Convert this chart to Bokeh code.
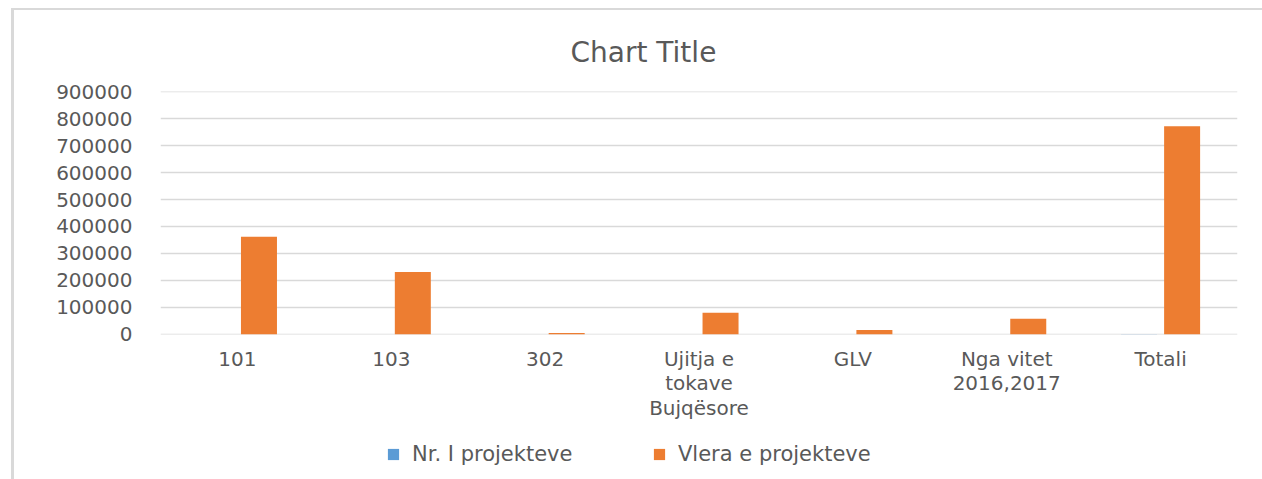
from bokeh.plotting import figure
from bokeh.layouts import column
from bokeh.models import (FactorRange, Range1d, FixedTicker, PrintfTickFormatter,
                          Legend, LegendItem, ColumnDataSource)
from bokeh.transform import dodge
from bokeh.embed import file_html
from bokeh.resources import INLINE

# ---- data ----
categories = ["101", "103", "302", "Ujitja e\ntokave\nBujqësore", "GLV",
              "Nga vitet\n2016,2017", "Totali"]
nr_projekteve = [40, 25, 2, 6, 3, 10, 86]
vlera_projekteve = [362000, 231000, 5000, 80000, 16000, 58000, 772000]
y_ticks = [0, 100000, 200000, 300000, 400000, 500000, 600000, 700000, 800000, 900000]
series_names = ["Nr. I projekteve", "Vlera e projekteve"]
series_colors = ["#5b9bd5", "#ed7d31"]
title_text = "Chart Title"

FONT = "DejaVu Sans"
GREY = "#595959"

src = ColumnDataSource(dict(cat=categories, nr=nr_projekteve, vlera=vlera_projekteve))
xr = FactorRange(*categories, range_padding=0)

# ---- main chart ----
p = figure(width=1248, height=424, output_backend="svg", toolbar_location=None,
           x_range=xr, y_range=Range1d(-400, 900400),
           min_border_left=146, min_border_right=25,
           min_border_top=80, min_border_bottom=100,
           title=title_text)
p.outline_line_color = None
p.background_fill_color = "white"
p.border_fill_color = "white"

p.title.align = "left"
p.title.offset = 410
p.title.standoff = 46
p.title.text_font = FONT
p.title.text_font_size = "28px"
p.title.text_font_style = "normal"
p.title.text_color = GREY

p.vbar(x=dodge("cat", -0.14, range=xr), top="nr", width=0.234,
       source=src, fill_color=series_colors[0], line_color=None)
p.vbar(x=dodge("cat", 0.14, range=xr), top="vlera", width=0.234,
       source=src, fill_color=series_colors[1], line_color=None)

p.xgrid.grid_line_color = None
p.ygrid.grid_line_color = "#d9d9d9"
p.ygrid.grid_line_width = 1.5

p.yaxis.ticker = FixedTicker(ticks=y_ticks)
p.yaxis.formatter = PrintfTickFormatter(format="%d")
for ax in (p.xaxis[0], p.yaxis[0]):
    ax.axis_line_color = None
    ax.major_tick_line_color = None
    ax.minor_tick_line_color = None
    ax.major_tick_out = 0
    ax.major_tick_in = 0
    ax.major_label_text_color = GREY
    ax.major_label_text_font = FONT
    ax.major_label_text_font_size = "20px"
p.yaxis.major_label_standoff = 28
p.xaxis.major_label_standoff = 12
p.xaxis.major_label_text_line_height = 1.03

# ---- legend strip (own small figure under the chart) ----
# the same series are drawn here on a y range far above the data, so only
# their legend swatches are visible
pl = figure(width=1248, height=45, output_backend="svg", toolbar_location=None,
            x_axis_type=None, y_axis_type=None, x_range=xr,
            y_range=Range1d(10_000_000, 20_000_000), min_border=0)
pl.outline_line_color = None
pl.xgrid.grid_line_color = None
pl.ygrid.grid_line_color = None
lr_blue = pl.vbar(x=dodge("cat", -0.14, range=xr), top="nr", width=0.234, source=src,
                  fill_color=series_colors[0], line_color=None)
lr_orange = pl.vbar(x=dodge("cat", 0.14, range=xr), top="vlera", width=0.234, source=src,
                    fill_color=series_colors[1], line_color=None)
legend = Legend(items=[LegendItem(label=series_names[0], renderers=[lr_blue]),
                       LegendItem(label=series_names[1], renderers=[lr_orange])],
                orientation="horizontal", location=(226, 13),
                glyph_width=14, glyph_height=14, label_standoff=12,
                label_width=236, spacing=4,
                padding=0, margin=0, border_line_color=None, background_fill_alpha=0,
                label_text_font=FONT, label_text_font_size="21px",
                label_text_color=GREY)
pl.add_layout(legend)

layout = column(p, pl, spacing=0,
                styles={"margin-left": "11px", "margin-top": "8px",
                        "border-left": "3px solid #d9d9d9",
                        "border-top": "2px solid #d9d9d9"})

open("out.html", "w").write(file_html(layout, INLINE))
